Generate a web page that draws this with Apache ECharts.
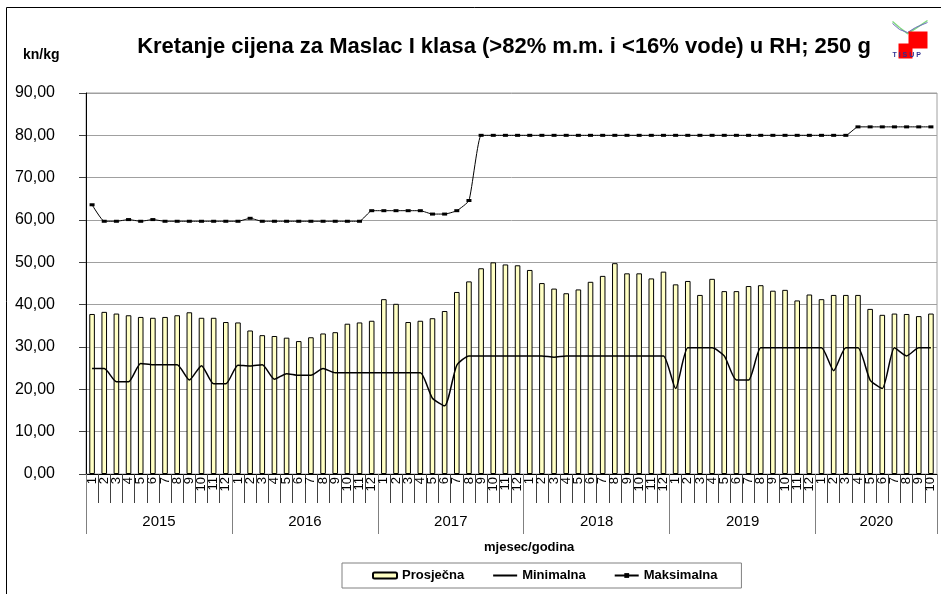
<!DOCTYPE html>
<html>
<head>
<meta charset="utf-8">
<title>Maslac</title>
<script src="https://cdn.jsdelivr.net/npm/echarts@6/dist/echarts.min.js"></script>
<style>
	html,body{margin:0;padding:0;background:#fff;}
	#main{width:941px;height:594px;}
</style>
</head>
<body>
<div id="main"></div>
<script>
// godine i broj mjeseci po godini
var years = ['2015','2016','2017','2018','2019','2020'];
var monthsInYear = [12,12,12,12,12,10];

// Prosjecna cijena (kn/kg)
var avgPrice = [
	37.8, 38.3, 37.9, 37.5, 37.1, 36.9, 37.1, 37.5, 38.2, 36.9, 36.9, 35.9,
	35.8, 33.9, 32.8, 32.6, 32.2, 31.4, 32.3, 33.2, 33.5, 35.5, 35.8, 36.2,
	41.3, 40.2, 35.9, 36.2, 36.8, 38.5, 43.0, 45.5, 48.6, 50.0, 49.5, 49.3,
	48.2, 45.1, 43.8, 42.7, 43.6, 45.4, 46.8, 49.8, 47.4, 47.4, 46.2, 47.8,
	44.8, 45.6, 42.3, 46.1, 43.2, 43.2, 44.4, 44.6, 43.3, 43.5, 41.0, 42.4,
	41.3, 42.3, 42.3, 42.3, 39.0, 37.6, 37.9, 37.8, 37.3, 37.9
];
// Minimalna
var minPrice = [
	24.9, 24.9, 21.8, 21.8, 26.1, 25.8, 25.8, 25.8, 22.2, 25.6, 21.3, 21.3,
	25.7, 25.5, 25.8, 22.4, 23.7, 23.3, 23.3, 24.9, 23.9, 23.9, 23.9, 23.9,
	23.9, 23.9, 23.9, 23.9, 17.9, 16.1, 25.7, 27.9, 27.9, 27.9, 27.9, 27.9,
	27.9, 27.9, 27.6, 27.9, 27.9, 27.9, 27.9, 27.9, 27.9, 27.9, 27.9, 27.9,
	20.2, 29.8, 29.8, 29.8, 27.9, 22.2, 22.2, 29.8, 29.8, 29.8, 29.8, 29.8,
	29.8, 24.4, 29.8, 29.8, 22.2, 20.2, 29.8, 27.9, 29.8, 29.8
];
// Maksimalna
var maxPrice = [
	63.6, 59.7, 59.7, 60.1, 59.7, 60.1, 59.7, 59.7, 59.7, 59.7, 59.7, 59.7,
	59.7, 60.4, 59.7, 59.7, 59.7, 59.7, 59.7, 59.7, 59.7, 59.7, 59.7, 62.2,
	62.2, 62.2, 62.2, 62.2, 61.4, 61.4, 62.2, 64.6, 80.0, 80.0, 80.0, 80.0,
	80.0, 80.0, 80.0, 80.0, 80.0, 80.0, 80.0, 80.0, 80.0, 80.0, 80.0, 80.0,
	80.0, 80.0, 80.0, 80.0, 80.0, 80.0, 80.0, 80.0, 80.0, 80.0, 80.0, 80.0,
	80.0, 80.0, 80.0, 82.0, 82.0, 82.0, 82.0, 82.0, 82.0, 82.0
];

var yTicks = [0,10,20,30,40,50,60,70,80,90];

// kategorije: godina-mjesec
var categories = [];
var yearStart = [];
var yearMid = {};
for(var y=0;y<years.length;y++){
	yearStart.push(categories.length);
	yearMid[categories.length + Math.floor(monthsInYear[y]/2)] = years[y];
	for(var m=1;m<=monthsInYear[y];m++){
		categories.push(years[y] + '-' + m);
	}
}

var font = 'Liberation Sans, Arial, sans-serif';
var myChart = echarts.init(document.getElementById('main'));

myChart.setOption({
	animation:false,
	backgroundColor:'#fff',
	title:{
		text:'Kretanje cijena za Maslac I klasa (>82% m.m. i <16% vode) u RH; 250 g',
		left:499,
		top:31,
		textAlign:'center',
		textStyle:{fontFamily:font,fontSize:22,fontWeight:'bold',color:'#000'}
	},
	legend:{
		left:342,
		top:563,
		padding:[6,24,6,30],
		itemGap:28,
		itemWidth:24,
		itemHeight:6,
		borderColor:'#808080',
		borderWidth:1,
		borderRadius:0,
		textStyle:{fontFamily:font,fontSize:13,fontWeight:'bold',color:'#000'},
		data:[
			{name:'Prosječna'},
			{name:'Minimalna',itemStyle:{opacity:0}},
			{name:'Maksimalna'}
		]
	},
	grid:{
		left:86,
		right:4,
		top:93,
		bottom:120,
		show:true,
		borderColor:'#a0a0a0',
		borderWidth:1
	},
	xAxis:[{
		type:'category',
		data:categories,
		axisLine:{show:true,lineStyle:{color:'#000',width:1}},
		axisTick:{show:true,interval:0,length:29,lineStyle:{color:'#404040'}},
		axisLabel:{
			interval:0,
			rotate:90,
			margin:3,
			fontFamily:font,
			fontSize:13,
			color:'#000',
			formatter:function(v){ return v.split('-')[1]; }
		},
		splitLine:{show:false}
	},{
		type:'category',
		data:categories,
		position:'bottom',
		offset:0,
		axisLine:{show:false},
		axisTick:{
			show:true,
			length:60,
			interval:function(index){ return yearStart.indexOf(index) >= 0; },
			lineStyle:{color:'#808080'}
		},
		axisLabel:{
			interval:function(index){ return yearMid[index] !== undefined; },
			margin:40,
			padding:[0,12,0,0],
			fontFamily:font,
			fontSize:15,
			color:'#000',
			formatter:function(v){ return v.split('-')[0]; }
		},
		splitLine:{show:false}
	}],
	yAxis:{
		type:'value',
		min:yTicks[0],
		max:yTicks[yTicks.length-1],
		interval:10,
		axisLine:{show:true,lineStyle:{color:'#000'}},
		axisTick:{show:true,length:7,lineStyle:{color:'#404040'}},
		axisLabel:{
			margin:31,
			fontFamily:font,
			fontSize:16,
			color:'#000',
			formatter:function(v){ return v.toFixed(2).replace('.',','); }
		},
		splitLine:{show:true,lineStyle:{color:'#a0a0a0',width:1}}
	},
	graphic:[{
		type:'rect',
		silent:true,
		z:-10,
		shape:{x:6.5,y:7.5,width:1000,height:1000},
		style:{fill:'none',stroke:'#000',lineWidth:1}
	},{
		type:'text',
		left:23,
		top:48,
		style:{text:'kn/kg',font:'bold 14px ' + font,fill:'#000'}
	},{
		type:'text',
		left:484,
		top:541,
		style:{text:'mjesec/godina',font:'bold 13px ' + font,fill:'#000'}
	},{
		type:'group',
		left:890,
		top:18,
		children:[{
			type:'polyline',
			shape:{points:[[2,3],[9,9],[17,15],[25,10],[37,2]]},
			style:{stroke:'#7fd67f',lineWidth:1.5,fill:'none'}
		},{
			type:'polyline',
			shape:{points:[[2,5],[9,11],[17,14],[25,9],[37,4]]},
			style:{stroke:'#7070c0',lineWidth:1,fill:'none'}
		},{
			type:'rect',
			shape:{x:18,y:13,width:19,height:17},
			style:{fill:'#ff0000'}
		},{
			type:'rect',
			shape:{x:8,y:25,width:14,height:15},
			style:{fill:'#ff0000'}
		},{
			type:'text',
			x:2,
			y:33,
			style:{text:'T I S U P',font:'bold 7px ' + font,fill:'#303090'}
		}]
	}],
	series:[{
		name:'Prosječna',
		type:'bar',
		data:avgPrice,
		barWidth:'46%',
		itemStyle:{color:'#ffffc4',borderColor:'#000',borderWidth:1},
		z:2
	},{
		name:'Minimalna',
		type:'line',
		data:minPrice,
		smooth:0.2,
		symbol:'none',
		lineStyle:{color:'#000',width:1.5},
		itemStyle:{color:'#000'},
		z:3
	},{
		name:'Maksimalna',
		type:'line',
		data:maxPrice,
		smooth:0.15,
		symbol:'rect',
		symbolSize:[5,3],
		lineStyle:{color:'#000',width:1},
		itemStyle:{color:'#000'},
		z:4
	}]
});

window.onresize = function(){
	myChart.resize();
}
</script>
</body>
</html>
